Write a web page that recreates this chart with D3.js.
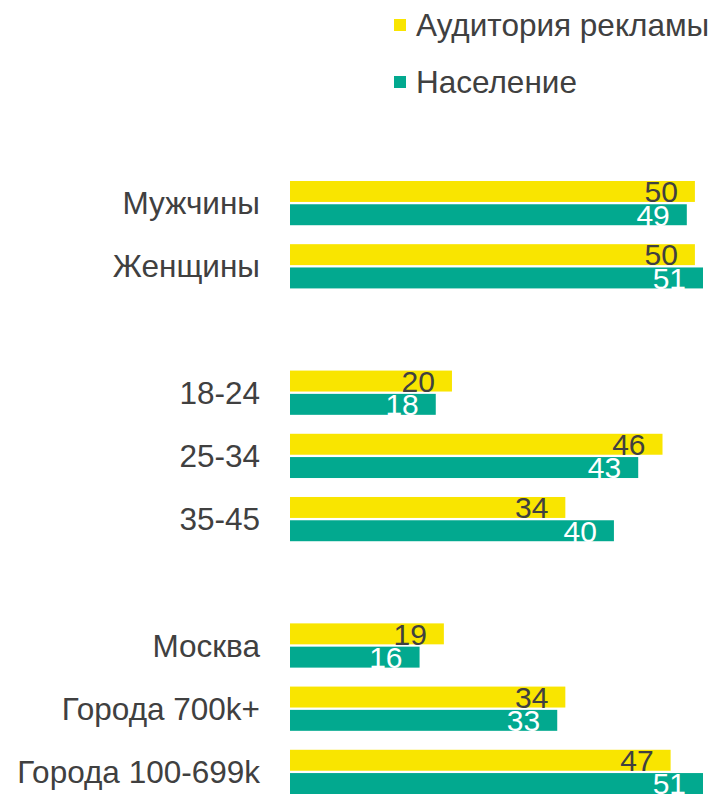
<!DOCTYPE html>
<html>
<head>
<meta charset="utf-8">
<script src="https://cdn.jsdelivr.net/npm/d3@7"></script>
<style>
    body { margin: 0; background: #fff; }
    svg text { font-family: "Liberation Sans", Arial, sans-serif; }
</style>
</head>
<body>
<svg id="chart" width="717" height="794"></svg>
<script>
// data
const groups = [
    ["Мужчины", "Женщины"],
    ["18-24", "25-34", "35-45"],
    ["Москва", "Города 700k+", "Города 100-699k"]
];
const seriesNames = ["Аудитория рекламы", "Население"];
const audience = [50, 50, 20, 46, 34, 19, 34, 47];
const population = [49, 51, 18, 43, 40, 16, 33, 51];
const colors = ["#f9e500", "#02a98f"];
const labelColors = ["#404040", "#ffffff"];

// rows incl. spacer rows between groups
const rows = [];
groups.forEach((g, gi) => {
    if (gi > 0) rows.push({ key: "gap" + gi, label: "" });
    g.forEach((c) => rows.push({ key: c, label: c }));
});
const categories = groups.flat();
const data = categories.map((c, i) => ({ cat: c, values: [audience[i], population[i]] }));

const svg = d3.select("#chart");

const y = d3
    .scaleBand()
    .domain(rows.map((r) => r.key))
    .range([171.5, 803.5])
    .paddingInner(0.3)
    .paddingOuter(0.15);
const ySub = d3
    .scaleBand()
    .domain([0, 1])
    .range([0, y.bandwidth()])
    .paddingInner(0.1);
const x = d3.scaleLinear().domain([0, 51]).range([290, 703]);

// category labels
svg
    .selectAll(".cat")
    .data(rows.filter((r) => r.label))
    .enter()
    .append("text")
    .attr("class", "cat")
    .attr("x", 260)
    .attr("y", (d) => y(d.key) + y.bandwidth() / 2)
    .attr("dy", "0.35em")
    .attr("text-anchor", "end")
    .attr("font-size", 31.5)
    .attr("fill", "#404040")
    .text((d) => d.label);

// bars
const g = svg
    .selectAll(".row")
    .data(data)
    .enter()
    .append("g")
    .attr("class", "row")
    .attr("transform", (d) => `translate(0, ${y(d.cat)})`);

g.selectAll("rect")
    .data((d) => d.values)
    .enter()
    .append("rect")
    .attr("x", x(0))
    .attr("y", (v, i) => ySub(i))
    .attr("width", (v) => x(v) - x(0))
    .attr("height", ySub.bandwidth())
    .attr("fill", (v, i) => colors[i]);

g.selectAll("text")
    .data((d) => d.values)
    .enter()
    .append("text")
    .attr("x", (v) => x(v) - 17)
    .attr("y", (v, i) => ySub(i) + ySub.bandwidth() / 2)
    .attr("dy", "0.36em")
    .attr("text-anchor", "end")
    .attr("font-size", 30)
    .attr("fill", (v, i) => labelColors[i])
    .text((v) => v);

// legend
const legend = svg
    .selectAll(".legend")
    .data(seriesNames)
    .enter()
    .append("g")
    .attr("class", "legend")
    .attr("transform", (d, i) => `translate(394, ${25 + i * 57})`);
legend
    .append("rect")
    .attr("x", 0)
    .attr("y", -6)
    .attr("width", 12)
    .attr("height", 12)
    .attr("fill", (d, i) => colors[i]);
legend
    .append("text")
    .attr("x", 22)
    .attr("dy", "0.35em")
    .attr("font-size", 31.5)
    .attr("fill", "#404040")
    .text((d) => d);
</script>
</body>
</html>
